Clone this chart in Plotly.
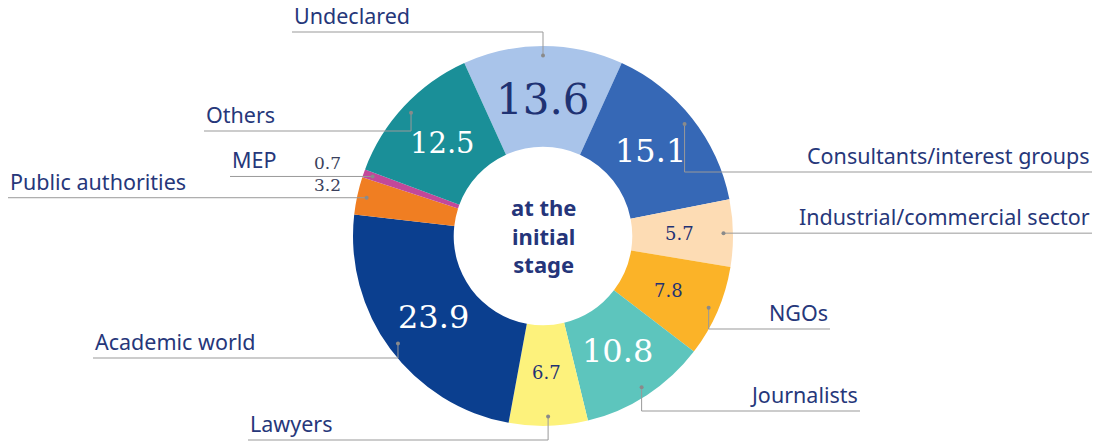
import math
import plotly.graph_objects as go

categories = ["Undeclared", "Consultants/interest groups", "Industrial/commercial sector",
              "NGOs", "Journalists", "Lawyers", "Academic world", "Public authorities",
              "MEP", "Others"]
values = [13.6, 15.1, 5.7, 7.8, 10.8, 6.7, 23.9, 3.2, 0.7, 12.5]
colors = ["#a9c4ea", "#3668b6", "#fddcb4", "#fbb328", "#5dc5bd", "#fdf27c",
          "#0b3f8f", "#f07e22", "#c2489a", "#1a8f98"]
text_colors = ["#1f3273", "white", "#1f3273", "#1f3273", "white", "#1f3273",
               "white", "#3a3f5c", "#3a3f5c", "white"]
text_sizes = [42, 32, 18, 18, 32, 18, 32, 17, 17, 29]
inside = [True, True, True, True, True, True, True, False, False, True]

# label layout: side, end of leader line (px), target line y (px) or None = horizontal at dot
label_side = ["left", "right", "right", "right", "right", "left", "left", "left", "left", "left"]
label_end = [292, 1092, 1092, 830, 860, 248, 93, 8, 230, 204]
label_line_y = [32, 172, None, 329, 411, 440, 358, None, None, 131]

W, H = 1099, 443
cx, cy, R = 543, 236, 190
HOLE = 0.47
NAVY = "#26377a"
LINE = "#999999"


def px(x):
    return x / W


def py(y):
    return 1 - y / H


rotation = -values[0] * 3.6 / 2
total = sum(values)

fig = go.Figure()
fig.add_trace(go.Pie(
    labels=categories,
    values=values,
    textinfo="none",
    marker=dict(colors=colors, line=dict(width=0)),
    hole=HOLE,
    sort=False,
    direction="clockwise",
    rotation=rotation,
    showlegend=False,
    hoverinfo="label+value",
    domain=dict(x=[px(cx - R), px(cx + R)], y=[py(cy + R), py(cy - R)]),
))

shapes = []
annotations = []
cum = 0
r_dot = 0.95 * R
r_txt = 0.72 * R
for i, (name, v) in enumerate(zip(categories, values)):
    mid = math.radians(rotation + (cum + v / 2) / total * 360)
    cum += v
    dx = cx + r_dot * math.sin(mid)
    dy = cy - r_dot * math.cos(mid)
    ly = label_line_y[i] if label_line_y[i] is not None else dy
    end = label_end[i]
    path = f"M {px(dx)},{py(dy)} L {px(dx)},{py(ly)} L {px(end)},{py(ly)}"
    shapes.append(dict(type="path", xref="paper", yref="paper", path=path,
                       line=dict(color=LINE, width=1)))
    shapes.append(dict(type="circle", xref="paper", yref="paper",
                       xsizemode="pixel", ysizemode="pixel",
                       xanchor=px(dx), yanchor=py(dy), x0=-2, x1=2, y0=-2, y1=2,
                       fillcolor="#8a8a8a", line=dict(width=0)))
    annotations.append(dict(
        x=px(end), y=py(ly), xref="paper", yref="paper",
        text=name, showarrow=False,
        xanchor=label_side[i], yanchor="bottom", yshift=0,
        font=dict(family="Noto Sans", size=21.5, color=NAVY)))
    if inside[i]:
        tx = cx + r_txt * math.sin(mid)
        ty = cy - r_txt * math.cos(mid)
        annotations.append(dict(
            x=px(tx), y=py(ty), xref="paper", yref="paper",
            text=f"{v}", showarrow=False, xanchor="center", yanchor="middle",
            font=dict(family="DejaVu Serif", size=text_sizes[i], color=text_colors[i])))
    else:
        annotations.append(dict(
            x=px(cx - R - 10), y=py(dy), xref="paper", yref="paper",
            text=f"{v}", showarrow=False, xanchor="right", yanchor="bottom", yshift=1,
            font=dict(family="DejaVu Serif", size=text_sizes[i], color=text_colors[i])))

annotations.append(dict(
    x=px(cx), y=py(cy), xref="paper", yref="paper",
    text="<b>at the<br>initial<br>stage</b>", showarrow=False,
    font=dict(family="Noto Sans", size=22, color="#25357a")))

fig.update_layout(
    width=W, height=H,
    margin=dict(l=0, r=0, t=0, b=0),
    paper_bgcolor="white",
    plot_bgcolor="white",
    shapes=shapes,
    annotations=annotations,
)

fig.write_html("out.html", config={"displayModeBar": False},
               post_script="document.body.style.margin='0';document.body.style.overflow='hidden';")
